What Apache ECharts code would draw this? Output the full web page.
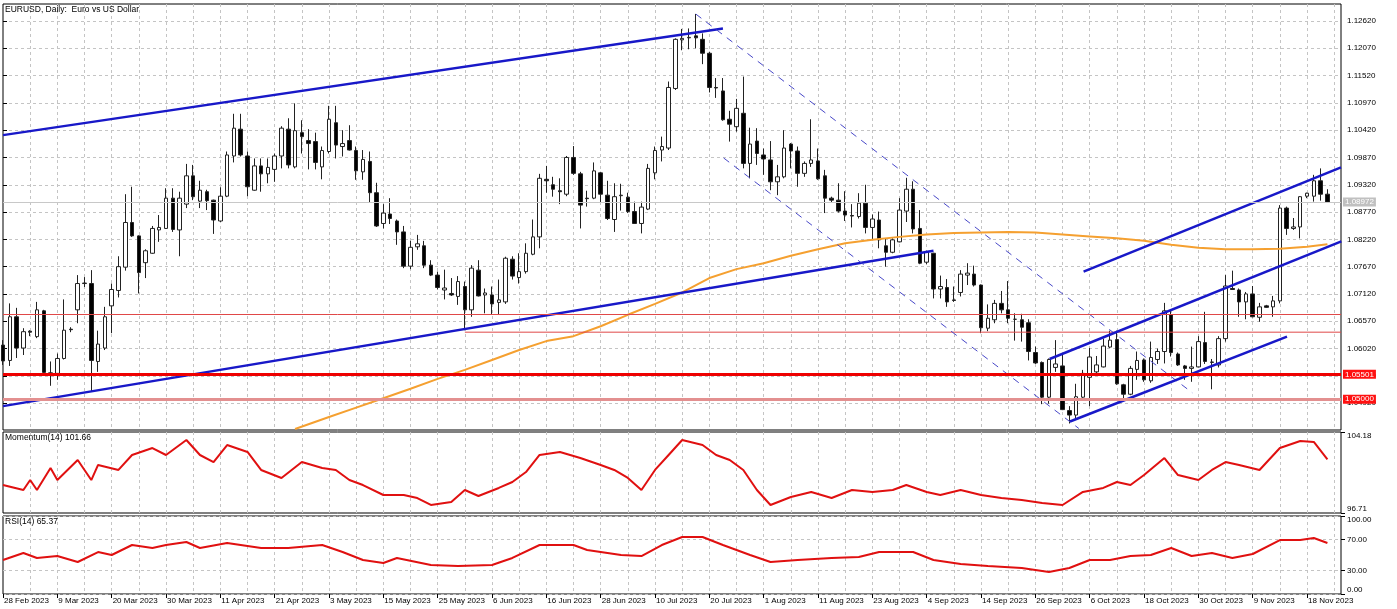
<!DOCTYPE html>
<html><head><meta charset="utf-8">
<script src="https://cdn.jsdelivr.net/npm/echarts@6/dist/echarts.min.js"></script>
<style>html,body{margin:0;padding:0;background:#fff}#c{width:1397px;height:609px}</style>
</head><body><div id="c"></div>
<script>
const tickLabels = ['28 Feb 2023','9 Mar 2023','20 Mar 2023','30 Mar 2023','11 Apr 2023','21 Apr 2023','3 May 2023','15 May 2023','25 May 2023','6 Jun 2023','16 Jun 2023','28 Jun 2023','10 Jul 2023','20 Jul 2023','1 Aug 2023','11 Aug 2023','23 Aug 2023','4 Sep 2023','14 Sep 2023','26 Sep 2023','6 Oct 2023','18 Oct 2023','30 Oct 2023','9 Nov 2023','18 Nov 2023'];
const priceTicks = [1.04920,1.05470,1.06020,1.06570,1.07120,1.07670,1.08220,1.08770,1.09320,1.09870,1.10420,1.10970,1.11520,1.12070,1.12620];
const momTicks = [96.71, 104.18];
const rsiTicks = [0, 30, 70, 100];

const open = [1.0609,1.0578,1.0666,1.0603,1.0637,1.0626,1.0678,1.0553,1.0552,1.0582,1.0641,1.0680,1.0733,1.0733,1.0576,1.0603,1.0688,1.0719,1.0766,1.0856,
1.0829,1.0775,1.0794,1.0841,1.0844,1.0905,1.0841,1.0893,1.0950,1.0899,1.0918,1.0901,1.0859,1.0909,1.0990,1.1044,1.0990,1.0921,1.0970,1.0954,
1.0963,1.0990,1.1044,1.0968,1.1037,1.1021,1.1019,1.0968,1.0999,1.1057,1.1009,1.1021,1.1001,1.0958,1.0979,1.0916,1.0854,1.0873,1.0859,1.0837,
1.0768,1.0807,1.0809,1.0770,1.0750,1.0720,1.0713,1.0707,1.0727,1.0680,1.0760,1.0710,1.0710,1.0695,1.0696,1.0782,1.0745,1.0757,1.0792,1.0827,
1.0943,1.0932,1.0920,1.0913,1.0987,1.0954,1.0905,1.0905,1.0956,1.0911,1.0862,1.0910,1.0907,1.0878,1.0854,1.0883,1.0956,1.1002,1.1006,1.1126,
1.1224,1.1228,1.1232,1.1225,1.1197,1.1128,1.1121,1.1064,1.1049,1.1076,1.0975,1.1020,1.0992,1.0982,1.0938,1.0948,1.1014,1.1000,1.0955,1.0975,
1.0980,1.0950,1.0905,1.0901,1.0879,1.0870,1.0868,1.0895,1.0846,1.0861,1.0809,1.0796,1.0817,1.0879,1.0923,1.0844,1.0776,1.0794,1.0722,1.0725,
1.0700,1.0715,1.0750,1.0752,1.0730,1.0643,1.0660,1.0693,1.0680,1.0661,1.0660,1.0654,1.0594,1.0574,1.0504,1.0564,1.0567,1.0477,1.0468,1.0504,
1.0544,1.0555,1.0565,1.0605,1.0620,1.0529,1.0510,1.0560,1.0579,1.0537,1.0580,1.0596,1.0670,1.0591,1.0567,1.0562,1.0565,1.0614,1.0574,1.0569,
1.0622,1.0723,1.0720,1.0696,1.0712,1.0665,1.0688,1.0686,1.0698,1.0885,1.0844,1.0847,1.0909,1.0909,1.0940,1.0913];
const close = [1.0577,1.0666,1.0603,1.0636,1.0635,1.0680,1.0554,1.0551,1.0582,1.0639,1.0640,1.0733,1.0734,1.0578,1.0611,1.0666,1.0721,1.0767,1.0856,1.0829,
1.0755,1.0799,1.0844,1.0846,1.0905,1.0842,1.0905,1.0950,1.0908,1.0921,1.0900,1.0861,1.0909,1.0992,1.1046,1.0992,1.0928,1.0970,1.0954,1.0967,
1.0990,1.1046,1.0972,1.1041,1.1029,1.1015,1.0977,1.1001,1.1064,1.1012,1.1015,1.1002,1.0960,1.0983,1.0916,1.0849,1.0875,1.0864,1.0837,1.0768,
1.0806,1.0813,1.0770,1.0750,1.0725,1.0724,1.0710,1.0737,1.0680,1.0764,1.0708,1.0714,1.0692,1.0700,1.0784,1.0748,1.0757,1.0794,1.0827,1.0945,
1.0940,1.0923,1.0918,1.0987,1.0955,1.0891,1.0904,1.0960,1.0913,1.0864,1.0908,1.0911,1.0878,1.0854,1.0887,1.0965,1.1001,1.1009,1.1128,1.1225,
1.1227,1.1229,1.1228,1.1197,1.1128,1.1127,1.1063,1.1054,1.1086,1.0975,1.1014,1.0995,1.0984,1.0938,1.0948,1.1006,1.1000,1.0955,1.0975,1.0982,
1.0944,1.0905,1.0901,1.0879,1.0871,1.0869,1.0895,1.0846,1.0863,1.0821,1.0796,1.0821,1.0881,1.0923,1.0843,1.0774,1.0796,1.0722,1.0727,1.0696,
1.0699,1.0752,1.0754,1.0730,1.0644,1.0663,1.0693,1.0680,1.0663,1.0661,1.0645,1.0596,1.0573,1.0504,1.0580,1.0571,1.0479,1.0468,1.0505,1.0552,
1.0585,1.0569,1.0607,1.0619,1.0531,1.0510,1.0562,1.0578,1.0539,1.0584,1.0596,1.0678,1.0594,1.0569,1.0562,1.0565,1.0616,1.0576,1.0575,1.0622,
1.0728,1.0721,1.0696,1.0712,1.0666,1.0686,1.0685,1.0698,1.0885,1.0844,1.0847,1.0908,1.0915,1.0940,1.0913,1.0897];
const high = [1.0619,1.0693,1.0684,1.0643,1.0639,1.0696,1.0680,1.0576,1.0592,1.0701,1.0645,1.0750,1.0746,1.0760,1.0638,1.0686,1.0733,1.0788,1.0913,1.0928,
1.0830,1.0802,1.0849,1.0871,1.0925,1.0925,1.0918,1.0974,1.0972,1.0940,1.0922,1.0902,1.0927,1.0999,1.1075,1.1075,1.0999,1.0985,1.0985,1.0985,
1.0995,1.1050,1.1066,1.1096,1.1062,1.1044,1.1037,1.1009,1.1091,1.1091,1.1042,1.1052,1.1009,1.1002,1.0999,1.0936,1.0893,1.0905,1.0862,1.0849,
1.0819,1.0831,1.0819,1.0780,1.0757,1.0761,1.0744,1.0748,1.0737,1.0770,1.0780,1.0723,1.0727,1.0741,1.0787,1.0788,1.0794,1.0814,1.0862,1.0954,
1.0970,1.0948,1.0945,1.0990,1.1010,1.0958,1.0920,1.0977,1.0958,1.0940,1.0935,1.0934,1.0916,1.0898,1.0898,1.0974,1.1009,1.1029,1.1140,1.1227,
1.1246,1.1247,1.1276,1.1237,1.1200,1.1147,1.1147,1.1081,1.1105,1.1150,1.1047,1.1046,1.1005,1.1020,1.0972,1.1042,1.1016,1.1009,1.0979,1.1064,
1.1005,1.0962,1.0908,1.0935,1.0919,1.0893,1.0915,1.0932,1.0872,1.0878,1.0824,1.0824,1.0905,1.0946,1.0939,1.0881,1.0799,1.0795,1.0749,1.0742,
1.0727,1.0760,1.0774,1.0769,1.0731,1.0691,1.0700,1.0718,1.0738,1.0673,1.0672,1.0661,1.0606,1.0576,1.0582,1.0619,1.0589,1.0486,1.0531,1.0559,
1.0603,1.0587,1.0622,1.0638,1.0638,1.0531,1.0567,1.0596,1.0582,1.0616,1.0602,1.0694,1.0678,1.0594,1.0569,1.0606,1.0627,1.0676,1.0581,1.0627,
1.0750,1.0759,1.0723,1.0716,1.0728,1.0694,1.0690,1.0708,1.0891,1.0888,1.0865,1.0909,1.0916,1.0952,1.0965,1.0923];
const low = [1.0569,1.0567,1.0583,1.0589,1.0627,1.0623,1.0552,1.0527,1.0539,1.0580,1.0635,1.0653,1.0726,1.0515,1.0555,1.0599,1.0633,1.0705,1.0759,1.0827,
1.0713,1.0744,1.0793,1.0817,1.0843,1.0837,1.0788,1.0885,1.0901,1.0885,1.0881,1.0833,1.0857,1.0907,1.0977,1.0989,1.0909,1.0920,1.0918,1.0935,
1.0938,1.0965,1.0965,1.0965,1.0995,1.0963,1.0963,1.0943,1.0995,1.0985,1.0989,1.1001,1.0942,1.0942,1.0897,1.0847,1.0844,1.0853,1.0811,1.0764,
1.0762,1.0801,1.0764,1.0748,1.0721,1.0701,1.0708,1.0690,1.0639,1.0666,1.0707,1.0673,1.0670,1.0670,1.0692,1.0741,1.0733,1.0753,1.0790,1.0804,
1.0916,1.0908,1.0893,1.0909,1.0952,1.0844,1.0888,1.0903,1.0896,1.0861,1.0837,1.0880,1.0875,1.0853,1.0834,1.0881,1.0943,1.0979,1.1002,1.1123,
1.1203,1.1205,1.1207,1.1175,1.1118,1.1107,1.1061,1.1019,1.1039,1.0965,1.0945,1.0972,1.0952,1.0921,1.0911,1.0945,1.0965,1.0928,1.0948,1.0968,
1.0942,1.0875,1.0897,1.0876,1.0859,1.0846,1.0864,1.0834,1.0821,1.0804,1.0767,1.0794,1.0816,1.0857,1.0834,1.0772,1.0772,1.0703,1.0703,1.0686,
1.0696,1.0707,1.0730,1.0727,1.0633,1.0637,1.0653,1.0673,1.0653,1.0618,1.0616,1.0578,1.0571,1.0490,1.0491,1.0555,1.0478,1.0451,1.0461,1.0500,
1.0486,1.0552,1.0564,1.0603,1.0529,1.0500,1.0508,1.0539,1.0535,1.0533,1.0571,1.0572,1.0586,1.0567,1.0539,1.0535,1.0564,1.0571,1.0520,1.0564,
1.0616,1.0720,1.0666,1.0661,1.0665,1.0656,1.0684,1.0666,1.0693,1.0831,1.0841,1.0824,1.0905,1.0898,1.0900,1.0896];

// moving average (orange), read at sample bars: [bar, price]
const maPoints = [[43,1.0440],[48,1.0464],[52,1.0483],[56,1.0502],[60,1.0521],[64,1.0541],[68,1.0559],[72,1.0579],[76,1.0599],[80,1.0617],
[84,1.0627],[88,1.0647],[92,1.0670],[96,1.0692],[100,1.0715],[104,1.0744],[108,1.0762],[112,1.0774],[116,1.0789],[120,1.0802],
[124,1.0814],[128,1.0821],[132,1.0827],[136,1.0832],[140,1.0835],[144,1.0836],[148,1.0837],[152,1.0836],[156,1.0832],[160,1.0828],
[164,1.0824],[168,1.0819],[172,1.0811],[176,1.0805],[180,1.0802],[184,1.0802],[188,1.0803],[192,1.0807],[195,1.0812]];

const momentum = [[0,99.29],[3,98.83],[4,99.75],[5,98.83],[7,100.86],[8,99.75],[11,101.60],[13,99.75],[14,101.14],[17,100.68],[19,102.06],[22,102.70],[24,102.06],[27,103.44],[29,102.06],[31,101.41],[33,102.98],[36,102.34],[38,100.68],[41,99.94],[44,101.41],[47,100.86],[49,100.68],[51,99.75],[53,99.29],[56,98.37],[59,98.37],[61,98.09],[63,97.45],[66,97.72],[68,98.83],[70,98.28],[73,99.02],[75,99.57],[77,100.49],[79,102.06],[82,102.34],[85,101.78],[88,101.14],[90,100.68],[92,99.94],[94,98.83],[96,100.68],[98,102.06],[100,103.44],[103,102.98],[105,102.06],[107,101.60],[109,100.68],[111,98.83],[113,97.45],[116,98.19],[119,98.65],[122,98.09],[125,98.83],[128,98.65],[131,98.83],[133,99.29],[136,98.65],[138,98.37],[141,98.83],[144,98.37],[147,98.09],[150,97.91],[153,97.63],[156,97.45],[159,98.65],[162,99.02],[164,99.57],[166,99.29],[168,100.21],[171,101.78],[173,100.21],[176,99.75],[178,100.68],[180,101.41],[182,101.14],[185,100.68],[188,102.70],[191,103.35],[193,103.26],[195,101.66]];
const rsi = [[0,43.6],[3,52.6],[5,46.2],[8,48.7],[11,41.0],[14,53.8],[16,50.0],[19,62.8],[22,59.0],[24,62.8],[27,66.7],[29,59.0],[33,65.4],[38,59.0],[42,59.0],[47,62.8],[50,53.8],[53,43.6],[56,39.7],[58,46.2],[63,37.2],[67,35.9],[72,37.2],[75,46.2],[79,62.8],[84,62.8],[86,56.4],[91,50.0],[94,48.7],[97,62.8],[100,73.1],[103,73.1],[106,62.8],[110,50.0],[113,41.0],[117,43.6],[122,46.2],[126,47.4],[129,53.8],[134,53.8],[137,43.6],[141,38.5],[145,35.9],[150,33.3],[154,28.2],[157,33.3],[160,43.6],[163,43.6],[166,48.7],[169,50.0],[172,59.0],[175,48.7],[178,52.6],[181,46.2],[184,51.3],[188,69.2],[191,69.2],[193,71.8],[195,65.37]];

// drawn objects: [bar, price] end points
const trendUpperLong = [[0,1.1032],[106.0,1.1247]];
const trendLowerLong = [[0,1.0486],[137.0,1.0799]];
const dashUpper = [[102.0,1.1276],[175.1,1.0513]];
const dashLower = [[106.1,1.0986],[158.4,1.0441]];
const chanMid = [[154.1,1.0581],[197.05,1.0818]];
const chanLow = [[157.1,1.0455],[189.05,1.0626]];
const chanTop = [[159.1,1.0757],[197,1.0967]];
const hLineA = 1.0671;
const hLineB = [[68,1.0635],[197,1.0635]];
const support1 = 1.05501, support2 = 1.05000, bidPrice = 1.08972;

const N = 198;
const cats = Array.from({length:N}, (_, i) => String(i));
const candles = open.map((o, i) => [o, close[i], low[i], high[i]]);
const FONT = '"Liberation Sans", Arial, sans-serif';
const GRIDC = '#c4c4c4';

const catX = (g, lab) => ({
  type:'category', gridIndex:g, data:cats, boundaryGap:false,
  axisLine:{show:false},
  axisTick: lab ? {show:true, interval:(i)=>i%8===0, length:4, lineStyle:{color:'#000'}} : {show:false},
  axisLabel: lab ? {show:true, interval:(i)=>i%8===0, formatter:(v,i)=> (i%8===0 && tickLabels[i/8]) ? tickLabels[i/8] : '', align:'left', fontSize:8, color:'#000', fontFamily:FONT, margin:3, padding:[0,0,0,1]} : {show:false},
  splitLine:{show:true, interval:(i)=>i%4===0 && i>0, lineStyle:{color:GRIDC, type:[3,3], width:1}}
});

const tLine = (data, color, width, type, z) => ({
  type:'line', xAxisIndex:1, yAxisIndex:0, data, symbol:'none', silent:true, z:z||4,
  lineStyle:{color, width, type:type||'solid'}
});
const tag = (txt, bg) => ({show:true, position:'end', formatter:txt, backgroundColor:bg, color:'#fff', fontSize:8, fontFamily:FONT, padding:[1,2,0,2], distance:2});

const option = {
  animation:false,
  backgroundColor:'#fff',
  title:[
    {text:'EURUSD, Daily:  Euro vs US Dollar', left:5, top:5, padding:0, textStyle:{fontSize:8.5, fontWeight:'normal', color:'#000', fontFamily:FONT}},
    {text:'Momentum(14) 101.66', left:5, top:433, padding:0, textStyle:{fontSize:8.5, fontWeight:'normal', color:'#000', fontFamily:FONT}},
    {text:'RSI(14) 65.37', left:5, top:517, padding:0, textStyle:{fontSize:8.5, fontWeight:'normal', color:'#000', fontFamily:FONT}}
  ],
  grid:[
    {left:3, top:4, width:1338, height:426, show:true, borderColor:'#000', borderWidth:1, backgroundColor:'transparent'},
    {left:3, top:432, width:1338, height:81, show:true, borderColor:'#000', borderWidth:1, backgroundColor:'transparent'},
    {left:3, top:516, width:1338, height:78, show:true, borderColor:'#000', borderWidth:1, backgroundColor:'transparent'}
  ],
  xAxis:[
    catX(0,false),
    {type:'value', gridIndex:0, min:0, max:N-1, show:false, splitLine:{show:false}},
    catX(1,false),
    catX(2,true)
  ],
  yAxis:[
    {type:'value', gridIndex:0, position:'right', min:1.04379, max:1.12962, scale:true,
     axisLine:{show:false},
     axisTick:{show:true, length:4, customValues:priceTicks, lineStyle:{color:'#000'}},
     axisLabel:{customValues:priceTicks, formatter:v=>v.toFixed(5), fontSize:8, color:'#000', fontFamily:FONT, margin:6},
     splitLine:{show:true, lineStyle:{color:GRIDC, type:[3,3], width:1}}},
    {type:'value', gridIndex:1, position:'right', min:96.71, max:104.18, scale:true,
     axisLine:{show:false},
     axisTick:{show:true, length:4, customValues:momTicks, lineStyle:{color:'#000'}},
     axisLabel:{customValues:momTicks, formatter:v=>v.toFixed(2), fontSize:8, color:'#000', fontFamily:FONT, margin:6, verticalAlignMinLabel:'bottom', verticalAlignMaxLabel:'top'},
     splitLine:{show:false}},
    {type:'value', gridIndex:2, position:'right', min:0, max:100,
     axisLine:{show:false},
     axisTick:{show:true, length:4, customValues:rsiTicks, lineStyle:{color:'#000'}},
     axisLabel:{customValues:rsiTicks, formatter:v=>v.toFixed(2), fontSize:8, color:'#000', fontFamily:FONT, margin:6, verticalAlignMinLabel:'bottom', verticalAlignMaxLabel:'top'},
     splitLine:{show:true, lineStyle:{color:GRIDC, type:[3,3], width:1}}}
  ],
  series:[
    {type:'candlestick', xAxisIndex:0, yAxisIndex:0, data:candles, barWidth:4, z:2,
     itemStyle:{color:'#fff', color0:'#000', borderColor:'#222', borderColor0:'#222', borderWidth:1},
     markLine:{symbol:['none','none'], silent:true, animation:false, z:5, precision:5,
       data:[
         {yAxis:hLineA, lineStyle:{color:'#e04848', width:1, type:'solid'}, label:{show:false}},
         {yAxis:bidPrice, lineStyle:{color:'#c8c8c8', width:1, type:'solid'}, label:tag(bidPrice.toFixed(5), '#c0c0c0')},
         {yAxis:support2, lineStyle:{color:'#e39090', width:3, type:'solid'}, label:tag(support2.toFixed(5), '#ff1010')},
         {yAxis:support1, lineStyle:{color:'#ee0000', width:3, type:'solid'}, label:tag(support1.toFixed(5), '#ff1010')}
       ]}},
    tLine(hLineB, '#e04848', 1),
    tLine(maPoints, '#f5a030', 2, 'solid', 3),
    tLine(trendUpperLong, '#1818c8', 2.5),
    tLine(trendLowerLong, '#1818c8', 2.5),
    tLine(dashUpper, '#4848c8', 1, [7,6]),
    tLine(dashLower, '#4848c8', 1, [7,6]),
    tLine(chanMid, '#1818c8', 2.5),
    tLine(chanLow, '#1818c8', 2.5),
    tLine(chanTop, '#1818c8', 2.5),
    {type:'line', xAxisIndex:2, yAxisIndex:1, data:momentum, symbol:'none', silent:true, lineStyle:{color:'#e01010', width:2}},
    {type:'line', xAxisIndex:3, yAxisIndex:2, data:rsi, symbol:'none', silent:true, lineStyle:{color:'#e01010', width:2}}
  ]
};
const chart = echarts.init(document.getElementById('c'));
chart.setOption(option);
</script>
</body></html>
